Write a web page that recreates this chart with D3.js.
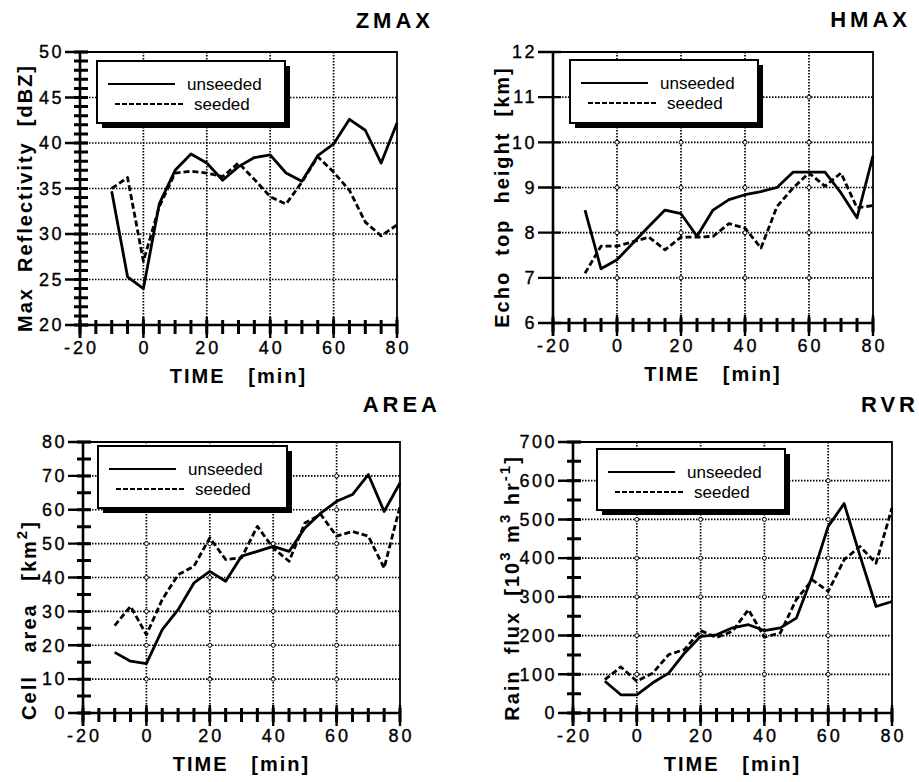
<!DOCTYPE html>
<html>
<head>
<meta charset="utf-8">
<script src="https://cdn.jsdelivr.net/npm/d3@7"></script>
<style>
  body { margin: 0; background: #fff; }
  text { font-family: "Liberation Sans", Arial, Helvetica, sans-serif; fill: #000; }
</style>
</head>
<body>
<svg id="chart" width="919" height="782"></svg>
<script>
// Time after seeding [min], one sample every 5 min:
const times = [-10, -5, 0, 5, 10, 15, 20, 25, 30, 35, 40, 45, 50, 55, 60, 65, 70, 75, 80];

// ZMAX, max reflectivity [dBZ]
const zmaxUnseeded = [34.7, 25.3, 24.0, 33.3, 37.0, 38.8, 37.8, 35.9, 37.4, 38.4, 38.7, 36.7, 35.8, 38.6, 39.9, 42.6, 41.4, 37.8, 42.2];
const zmaxSeeded   = [35.0, 36.2, 27.0, 33.0, 36.7, 36.9, 36.7, 36.3, 37.8, 36.0, 34.1, 33.3, 35.7, 38.5, 36.8, 34.8, 31.3, 29.8, 31.0];

// HMAX, echo top height [km]
const hmaxUnseeded = [8.5, 7.2, 7.4, 7.77, 8.14, 8.5, 8.42, 7.92, 8.5, 8.73, 8.84, 8.91, 9.0, 9.34, 9.34, 9.34, 8.88, 8.33, 9.7];
const hmaxSeeded   = [7.1, 7.7, 7.7, 7.8, 7.9, 7.62, 7.9, 7.9, 7.92, 8.2, 8.1, 7.66, 8.58, 8.99, 9.32, 9.03, 9.32, 8.55, 8.6];

// AREA, cell area [km2]
const areaUnseeded = [17.9, 15.3, 14.6, 24.6, 30.5, 38.4, 41.8, 38.9, 46.3, 47.7, 49.2, 47.7, 54.6, 59.0, 62.5, 64.5, 70.4, 59.5, 67.9];
const areaSeeded   = [25.8, 31.5, 23.1, 33.5, 40.8, 43.3, 51.7, 45.3, 45.8, 55.1, 48.7, 44.8, 56.1, 58.6, 52.2, 53.6, 52.2, 42.8, 61.0];

// RVR, rain flux [10^3 m^3 hr^-1]
const rvrUnseeded = [82, 47, 47, 78, 103, 155, 198, 202, 220, 228, 213, 220, 245, 353, 482, 541, 405, 275, 288];
const rvrSeeded   = [86, 119, 82, 103, 151, 164, 213, 195, 211, 267, 196, 207, 293, 344, 314, 396, 430, 387, 530];

// Tick labels
const timeTicks = [-20, 0, 20, 40, 60, 80];
const zmaxTicks = [20, 25, 30, 35, 40, 45, 50];
const hmaxTicks = [6, 7, 8, 9, 10, 11, 12];
const areaTicks = [0, 10, 20, 30, 40, 50, 60, 70, 80];
const rvrTicks  = [0, 100, 200, 300, 400, 500, 600, 700];

const seriesNames = ["unseeded", "seeded"];

const svg = d3.select("#chart");

// Layout of the four panels:
const panels = [
  {
    title: "ZMAX", titleRight: 430, titleY: 28,
    left: 80, right: 397, top: 52, bottom: 325,
    ticks: zmaxTicks, minorCount: 30, circles: false,
    unseeded: zmaxUnseeded, seeded: zmaxSeeded,
    ylabel: [{t: "Max  Reflectivity  [dBZ]"}], ylabelX: 32, ylabelY: 198,
    legend: {x: 97, y: 61, w: 188, h: 62}
  },
  {
    title: "HMAX", titleRight: 907, titleY: 27,
    left: 553, right: 873, top: 52, bottom: 323,
    ticks: hmaxTicks, minorCount: 0, circles: true,
    unseeded: hmaxUnseeded, seeded: hmaxSeeded,
    ylabel: [{t: "Echo  top  height  [km]"}], ylabelX: 509, ylabelY: 197,
    legend: {x: 570, y: 60, w: 188, h: 63}
  },
  {
    title: "AREA", titleRight: 437, titleY: 412,
    left: 83, right: 400, top: 442, bottom: 713,
    ticks: areaTicks, minorCount: 16, circles: true,
    unseeded: areaUnseeded, seeded: areaSeeded,
    ylabel: [{t: "Cell   area   [km"}, {t: "2", sup: true}, {t: "]"}], ylabelX: 36, ylabelY: 620,
    legend: {x: 98, y: 446, w: 189, h: 62}
  },
  {
    title: "RVR", titleRight: 915, titleY: 412,
    left: 573, right: 892, top: 442, bottom: 713,
    ticks: rvrTicks, minorCount: 14, circles: true,
    unseeded: rvrUnseeded, seeded: rvrSeeded,
    ylabel: [{t: "Rain  flux  [10"}, {t: "3", sup: true}, {t: " m"}, {t: "3", sup: true}, {t: " hr"}, {t: "-1", sup: true}, {t: "]"}],
    ylabelX: 519, ylabelY: 588,
    legend: {x: 597, y: 449, w: 188, h: 61}
  }
];

panels.forEach(drawPanel);

function drawPanel(p) {
  const g = svg.append("g");

  const x = d3.scaleLinear().domain([-20, 80]).range([p.left, p.right]);
  const y = d3.scaleLinear().domain(d3.extent(p.ticks)).range([p.bottom, p.top]);

  // Dotted grid lines (only inside, frame takes the borders):
  const hGrid = p.ticks.slice(1, -1);
  const vGrid = timeTicks.slice(1, -1);
  g.selectAll("line.hgrid").data(hGrid).enter().append("line")
    .attr("class", "hgrid")
    .attr("x1", p.left).attr("x2", p.right)
    .attr("y1", d => y(d)).attr("y2", d => y(d))
    .attr("stroke", "#000").attr("stroke-width", 1.7)
    .attr("stroke-dasharray", "1.5,1.5");
  g.selectAll("line.vgrid").data(vGrid).enter().append("line")
    .attr("class", "vgrid")
    .attr("x1", d => x(d)).attr("x2", d => x(d))
    .attr("y1", p.top).attr("y2", p.bottom)
    .attr("stroke", "#000").attr("stroke-width", 1.7)
    .attr("stroke-dasharray", "1.5,1.5");

  // Small open circles where grid lines cross:
  if (p.circles) {
    const pts = [];
    vGrid.forEach(t => hGrid.forEach(v => pts.push([t, v])));
    g.selectAll("circle.gc").data(pts).enter().append("circle")
      .attr("class", "gc")
      .attr("cx", d => x(d[0])).attr("cy", d => y(d[1])).attr("r", 2)
      .attr("fill", "#fff").attr("stroke", "#000").attr("stroke-width", 1);
  }

  // Frame (top and right):
  g.append("path")
    .attr("d", `M${p.left},${p.top}H${p.right}V${p.bottom}`)
    .attr("fill", "none").attr("stroke", "#000").attr("stroke-width", 1.8);

  // The two series:
  const line = d3.line().x((d, i) => x(times[i])).y(d => y(d));
  g.append("path").datum(p.seeded).attr("d", line)
    .attr("fill", "none").attr("stroke", "#000").attr("stroke-width", 2.8)
    .attr("stroke-dasharray", "6,3").attr("stroke-linejoin", "round");
  g.append("path").datum(p.unseeded).attr("d", line)
    .attr("fill", "none").attr("stroke", "#000").attr("stroke-width", 2.8)
    .attr("stroke-linejoin", "round");

  // Legend box with its heavy shadow:
  const L = p.legend;
  g.append("rect").attr("x", L.x + 5).attr("y", L.y + 5).attr("width", L.w).attr("height", L.h)
    .attr("fill", "#000");
  g.append("rect").attr("x", L.x).attr("y", L.y).attr("width", L.w).attr("height", L.h)
    .attr("fill", "#fff").attr("stroke", "#000").attr("stroke-width", 2);
  seriesNames.forEach((name, i) => {
    const ly = L.y + 23 + i * 20;
    g.append("line")
      .attr("x1", L.x + 11 + i * 7).attr("x2", L.x + 78 + i * 8)
      .attr("y1", ly).attr("y2", ly)
      .attr("stroke", "#000").attr("stroke-width", i ? 2.2 : 2)
      .attr("stroke-dasharray", i ? "5,2" : null);
    g.append("text")
      .attr("x", L.x + 90 + i * 7).attr("y", ly + 6)
      .attr("font-size", 17)
      .text(name);
  });

  // Tick marks, drawn as one path per kind from the scales:
  const yMinor = p.minorCount ? y.ticks(p.minorCount) : [];
  const minorPath =
    yMinor.map(v => `M${p.left - 6},${y(v)}H${p.left + 8}`).join("") +
    x.ticks(20).map(t => `M${x(t)},${p.bottom - 5}V${p.bottom + 9}`).join("");
  const majorPath =
    p.ticks.map(v => `M${p.left - 15},${y(v)}H${p.left + 8}`).join("") +
    timeTicks.map(t => `M${x(t)},${p.bottom - 8}V${p.bottom + 13}`).join("");
  g.append("path").attr("class", "minor-ticks")
    .attr("d", minorPath)
    .attr("fill", "none").attr("stroke", "#000").attr("stroke-width", 3);
  g.append("path").attr("class", "major-ticks")
    .attr("d", majorPath)
    .attr("fill", "none").attr("stroke", "#000").attr("stroke-width", 2.4);

  // Axis lines:
  g.append("path").attr("class", "axes")
    .attr("d", `M${p.left},${p.top}V${p.bottom + 13}M${p.left},${p.bottom}H${p.right}`)
    .attr("fill", "none").attr("stroke", "#000").attr("stroke-width", 2.6);

  // Tick labels through the axis generators (their own lines removed):
  g.append("g")
    .attr("transform", `translate(${p.left},0)`)
    .call(d3.axisLeft(y).tickValues(p.ticks).tickSize(15).tickPadding(1).tickFormat(d => String(d)))
    .call(a => a.select(".domain").remove())
    .call(a => a.selectAll("line").remove())
    .call(a => a.selectAll("text")
      .attr("font-size", 18).attr("letter-spacing", 2.5)
      .attr("stroke", "#000").attr("stroke-width", 0.35)
      .attr("font-family", "'Liberation Sans', Arial, sans-serif").attr("fill", "#000"));
  g.append("g")
    .attr("transform", `translate(0,${p.bottom})`)
    .call(d3.axisBottom(x).tickValues(timeTicks).tickSize(12).tickPadding(4).tickFormat(d => String(d)))
    .call(a => a.select(".domain").remove())
    .call(a => a.selectAll("line").remove())
    .call(a => a.selectAll("text")
      .attr("font-size", 18).attr("letter-spacing", 3).attr("dx", 1)
      .attr("stroke", "#000").attr("stroke-width", 0.35)
      .attr("font-family", "'Liberation Sans', Arial, sans-serif").attr("fill", "#000"));

  // Axis titles
  g.append("text")
    .attr("x", (p.left + p.right) / 2).attr("y", p.bottom + 58)
    .attr("text-anchor", "middle").attr("font-size", 20).attr("font-weight", "bold")
    .attr("letter-spacing", 2).style("white-space", "pre")
    .text("TIME   [min]");

  const yl = g.append("text")
    .attr("transform", `translate(${p.ylabelX},${p.ylabelY}) rotate(-90)`)
    .attr("text-anchor", "middle").attr("font-size", 20).attr("font-weight", "bold")
    .attr("letter-spacing", 2).style("white-space", "pre");
  p.ylabel.forEach((seg, i) => {
    const prevSup = i > 0 && p.ylabel[i - 1].sup;
    const ts = yl.append("tspan").text(seg.t);
    if (seg.sup) ts.attr("dy", -9).attr("font-size", 15);
    else if (prevSup) ts.attr("dy", 9);
  });

  // Panel title
  g.append("text")
    .attr("x", p.titleRight + 4).attr("y", p.titleY)
    .attr("text-anchor", "end").attr("font-size", 22).attr("font-weight", "bold")
    .attr("letter-spacing", 4)
    .text(p.title);
}
</script>
</body>
</html>
